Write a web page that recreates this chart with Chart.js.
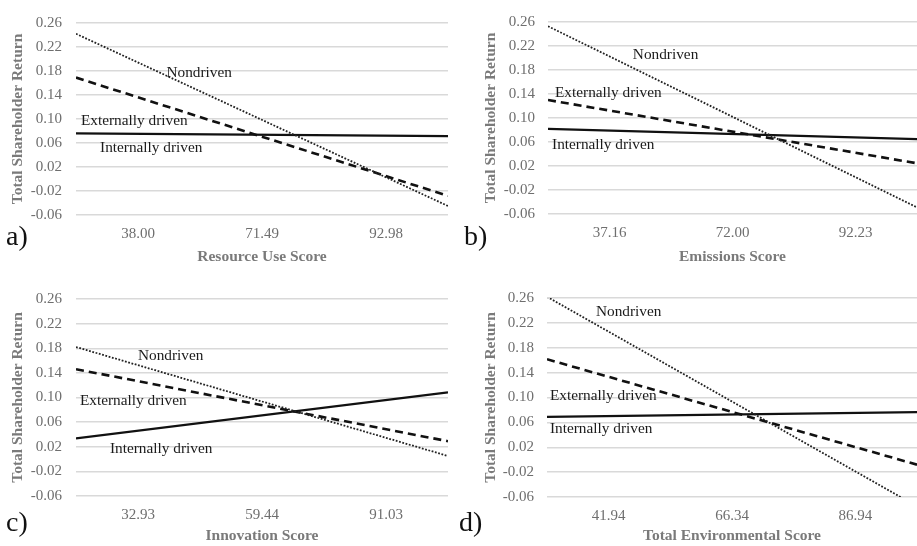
<!DOCTYPE html>
<html>
<head>
<meta charset="utf-8">
<script src="https://cdn.jsdelivr.net/npm/chart.js@4/dist/chart.umd.min.js"></script>
<style>
  html, body { margin: 0; padding: 0; background: #fff; }
  body { width: 917px; height: 546px; position: relative; overflow: hidden; font-family: "Liberation Serif", "DejaVu Serif", serif; }
  .panel { position: absolute; }
  .letter { position: absolute; font-family: "Liberation Serif", serif; font-size: 28px; color: #111; line-height: 1; }
</style>
</head>
<body>
<div class="panel" id="pa" style="left:0;top:0;width:458px;height:268px"><canvas id="ca"></canvas></div>
<div class="panel" id="pb" style="left:458px;top:0;width:459px;height:268px"><canvas id="cb"></canvas></div>
<div class="panel" id="pc" style="left:0;top:276px;width:458px;height:270px"><canvas id="cc"></canvas></div>
<div class="panel" id="pd" style="left:458px;top:276px;width:459px;height:270px"><canvas id="cd"></canvas></div>
<div class="letter" style="left:6px;top:222px">a)</div>
<div class="letter" style="left:464px;top:222px">b)</div>
<div class="letter" style="left:6px;top:508px">c)</div>
<div class="letter" style="left:459px;top:508px">d)</div>
<script>
// ---- Data ----
const seriesNames = ["Nondriven", "Externally driven", "Internally driven"];
const yTicks = [-0.06, -0.02, 0.02, 0.06, 0.10, 0.14, 0.18, 0.22, 0.26];

// Panel a: Resource Use Score
const aTickLabels = ["38.00", "71.49", "92.98"];
const aNondriven = [0.242, -0.045];
const aExternal = [0.169, -0.028];
const aInternal = [0.076, 0.0715];

// Panel b: Emissions Score
const bTickLabels = ["37.16", "72.00", "92.23"];
const bNondriven = [0.253, -0.049];
const bExternal = [0.130, 0.0245];
const bInternal = [0.082, 0.0647];

// Panel c: Innovation Score
const cTickLabels = ["32.93", "59.44", "91.03"];
const cNondriven = [0.182, 0.005];
const cExternal = [0.146, 0.029];
const cInternal = [0.0335, 0.1085];

// Panel d: Total Environmental Score
const dTickLabels = ["41.94", "66.34", "86.94"];
const dNondriven = [0.262, -0.075];
const dExternal = [0.1615, -0.008];
const dInternal = [0.069, 0.0766];

const axisTitles = ["Resource Use Score", "Emissions Score", "Innovation Score", "Total Environmental Score"];
const yTitle = "Total Shareholder Return";

// ---- Styling / layout (not data) ----
const SERIF = "'Liberation Serif', 'Times New Roman', serif";
const GRID = "#d9d9d9";
const TICK_COLOR = "#6e6e6e";
const TITLE_COLOR = "#7a7a7a";

// label anchor points in chart (data) coordinates: [x, y]
const labelSpots = {
  a: [[0.73, 0.1765], [0.04, 0.097], [0.194, 0.052]],
  b: [[0.69, 0.205], [0.057, 0.141], [0.033, 0.0545]],
  c: [[0.50, 0.168], [0.032, 0.095], [0.274, 0.0165]],
  d: [[0.397, 0.237], [0.024, 0.102], [0.024, 0.049]]
};

const lineLabelPlugin = {
  id: 'lineLabels',
  afterDatasetsDraw(chart, args, opts) {
    const ctx = chart.ctx;
    const xs = chart.scales.x, ys = chart.scales.y;
    ctx.save();
    ctx.font = "15.3px " + SERIF;
    ctx.fillStyle = "#1a1a1a";
    ctx.textBaseline = "middle";
    ctx.textAlign = "left";
    opts.spots.forEach((p, i) => {
      ctx.fillText(seriesNames[i], xs.getPixelForValue(p[0]), ys.getPixelForValue(p[1]));
    });
    ctx.restore();
  }
};

function makeChart(id, tickLabels, nd, ex, inn, xTitle, spots, geo) {
  const xEdges = [0, 3];
  const toPts = arr => arr.map((v, i) => ({ x: xEdges[i], y: v }));
  return new Chart(document.getElementById(id), {
    type: 'line',
    data: {
      datasets: [
        { label: seriesNames[0], data: toPts(nd), borderColor: "#222", borderWidth: 1.8, borderDash: [1.8, 1.6], pointRadius: 0, fill: false },
        { label: seriesNames[1], data: toPts(ex), borderColor: "#111", borderWidth: 2.6, borderDash: [8, 5], pointRadius: 0, fill: false },
        { label: seriesNames[2], data: toPts(inn), borderColor: "#111", borderWidth: 2.2, pointRadius: 0, fill: false }
      ]
    },
    options: {
      responsive: true,
      maintainAspectRatio: false,
      animation: false,
      events: [],
      layout: { padding: { top: geo.top, right: geo.right, bottom: 0, left: 0 } },
      plugins: {
        legend: { display: false },
        tooltip: { enabled: false },
        lineLabels: { spots: spots }
      },
      scales: {
        x: {
          type: 'linear',
          min: 0, max: 3,
          afterBuildTicks: s => { s.ticks = tickLabels.map((t, i) => ({ value: i + 0.5 })); },
          afterFit: s => { s.height = geo.xh; },
          ticks: {
            autoSkip: false,
            maxRotation: 0,
            padding: geo.xpad,
            color: TICK_COLOR,
            font: { family: SERIF, size: 15 },
            callback: (v, i) => tickLabels[i]
          },
          grid: { display: false, drawTicks: false },
          border: { display: false },
          title: {
            display: true, text: xTitle, color: TITLE_COLOR,
            font: { family: SERIF, size: 15.5, weight: 'bold' },
            padding: { top: 0, bottom: geo.xtb }
          }
        },
        y: {
          min: -0.06, max: 0.26,
          afterBuildTicks: s => { s.ticks = yTicks.map(v => ({ value: v })); },
          afterFit: s => { s.width = geo.yw; },
          ticks: {
            padding: geo.ypad,
            color: TICK_COLOR,
            font: { family: SERIF, size: 15 },
            callback: v => v.toFixed(2)
          },
          grid: { color: GRID, lineWidth: 1.5, drawTicks: false },
          border: { display: false },
          title: {
            display: true, text: yTitle, color: TITLE_COLOR,
            font: { family: SERIF, size: 15.5, weight: 'bold' },
            padding: { top: geo.ytp, bottom: 0 }
          }
        }
      }
    },
    plugins: [lineLabelPlugin]
  });
}

makeChart('ca', aTickLabels, aNondriven, aExternal, aInternal, axisTitles[0], labelSpots.a,
  { top: 15, right: 10, xh: 53, xpad: 10, xtb: 2, yw: 76, ypad: 14, ytp: 9 });
makeChart('cb', bTickLabels, bNondriven, bExternal, bInternal, axisTitles[1], labelSpots.b,
  { top: 15, right: 0, xh: 54, xpad: 10, xtb: 2, yw: 90, ypad: 13, ytp: 24 });
makeChart('cc', cTickLabels, cNondriven, cExternal, cInternal, axisTitles[2], labelSpots.c,
  { top: 19, right: 10, xh: 50, xpad: 10, xtb: 1, yw: 76, ypad: 14, ytp: 9 });
makeChart('cd', dTickLabels, dNondriven, dExternal, dInternal, axisTitles[3], labelSpots.d,
  { top: 16, right: 0, xh: 49, xpad: 10, xtb: 1, yw: 89, ypad: 13, ytp: 24 });
</script>
</body>
</html>
